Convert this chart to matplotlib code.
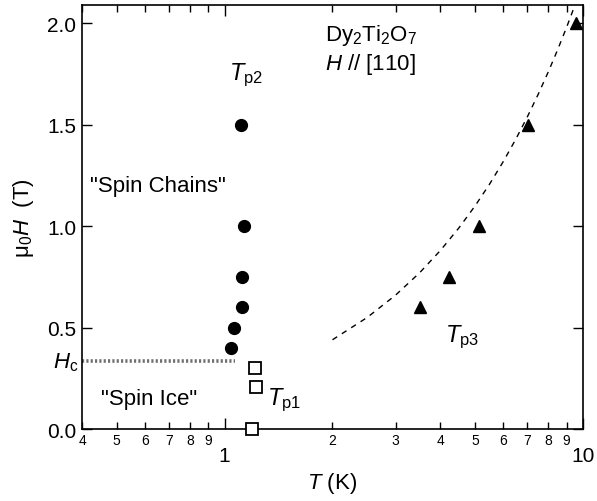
import matplotlib
matplotlib.use('Agg')
import matplotlib.pyplot as plt

plt.rcParams['font.family'] = ['Liberation Sans', 'DejaVu Sans']
plt.rcParams['mathtext.fontset'] = 'custom'
plt.rcParams['mathtext.rm'] = 'Liberation Sans'
plt.rcParams['mathtext.it'] = 'Liberation Sans:italic'

# data
tp2_T = [1.044, 1.064, 1.12, 1.12, 1.135, 1.113]
tp2_H = [0.40, 0.50, 0.60, 0.75, 1.00, 1.50]

tp1_T = [1.195, 1.22, 1.218]
tp1_H = [0.0, 0.205, 0.30]

tp3_T = [3.52, 4.23, 5.13, 7.04, 9.58]
tp3_H = [0.60, 0.75, 1.00, 1.50, 2.00]

# dashed guide line
fit_T = [2.0, 2.5, 3.0, 3.5, 4.0, 4.5, 5.0, 5.5, 6.0, 6.5, 7.0, 7.5, 8.0, 8.5, 9.0, 9.5, 10.0]
fit_H = [0.44, 0.55, 0.66, 0.77, 0.88, 0.99, 1.10, 1.21, 1.32, 1.43, 1.54, 1.65, 1.76, 1.87, 1.98, 2.09, 2.20]

hc_T = [0.4, 1.07]
hc_H = [0.333, 0.333]

major_x = [1, 10]
minor_x = [0.4, 0.5, 0.6, 0.7, 0.8, 0.9, 2, 3, 4, 5, 6, 7, 8, 9]
minor_lbl = ['4', '5', '6', '7', '8', '9', '2', '3', '4', '5', '6', '7', '8', '9']
yticks = [0.0, 0.5, 1.0, 1.5, 2.0]

fig = plt.figure(figsize=(5.97, 5.02), dpi=100)
ax = fig.add_axes([0.1374, 0.1434, 0.8391, 0.8446])

ax.plot(hc_T, hc_H, color='#707070', lw=2.6, linestyle=(0, (0.6, 0.6)), solid_capstyle='butt')
ax.plot(fit_T, fit_H, color='k', lw=1.0, linestyle=(0, (4, 4)))
ax.plot(tp2_T, tp2_H, 'o', color='k', ms=8.5, zorder=3)
ax.plot(tp1_T, tp1_H, 's', mfc='white', mec='k', mew=1.3, ms=8.5, zorder=3, clip_on=False)
ax.plot(tp3_T, tp3_H, '^', color='k', ms=9, zorder=3)

ax.set_xscale('log')
ax.set_xlim(0.4, 10)
ax.set_ylim(0, 2.09)

ax.set_xticks(major_x, ['1', '10'], fontsize=15)
ax.set_xticks(minor_x, minor_lbl, minor=True, fontsize=10)
ax.set_yticks(yticks, ['%.1f' % v for v in yticks], fontsize=15)
ax.tick_params(axis='both', which='both', direction='in', top=True, right=True, width=1)
ax.tick_params(axis='x', which='major', length=8, pad=12)
ax.tick_params(axis='x', which='minor', length=5, pad=3)
ax.tick_params(axis='y', which='major', length=7, pad=4)
for s in ax.spines.values():
    s.set_linewidth(1.2)

ax.set_xlabel(r'$T$ (K)', fontsize=16, labelpad=4)
ax.set_ylabel(r'μ$_0H$  (T)', fontsize=16, labelpad=8)

ax.text(1.9, 1.944, r'Dy$_2$Ti$_2$O$_7$', fontsize=16, va='center')
ax.text(1.9, 1.80, r'$H$ // [110]', fontsize=16, va='center')
ax.text(1.147, 1.75, r'$T_{\rm p2}$', fontsize=17, ha='center', va='center')
ax.text(0.42, 1.20, '"Spin Chains"', fontsize=16, va='center')
ax.text(0.453, 0.151, '"Spin Ice"', fontsize=16, va='center')
ax.text(1.314, 0.146, r'$T_{\rm p1}$', fontsize=17, va='center')
ax.text(4.11, 0.457, r'$T_{\rm p3}$', fontsize=17, va='center')
ax.text(-0.008, 0.333, r'$H_{\rm c}$', fontsize=16, ha='right', va='center',
        transform=ax.get_yaxis_transform())

fig.savefig('out.png', dpi=100)
